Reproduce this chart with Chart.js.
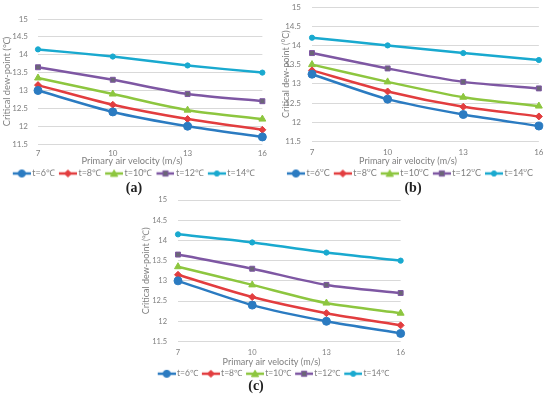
<!DOCTYPE html>
<html>
<head>
<meta charset="utf-8">
<script src="https://cdn.jsdelivr.net/npm/chart.js@4/dist/chart.umd.min.js"></script>
<style>
  body { margin: 0; background: #fff; width: 550px; height: 396px; position: relative; overflow: hidden; }
  canvas { position: absolute; }
  .tag { position: absolute; font: bold 14px "Liberation Serif", serif; color: #222; transform: translate(-50%, -50%); }
</style>
</head>
<body>
<canvas id="chartA" width="272" height="188" style="left:0;top:0"></canvas>
<canvas id="chartB" width="275" height="188" style="left:275px;top:0"></canvas>
<canvas id="chartC" width="272" height="198" style="left:140px;top:190px"></canvas>
<div class="tag" style="left:134px;top:188px">(a)</div>
<div class="tag" style="left:413px;top:188px">(b)</div>
<div class="tag" style="left:256px;top:386px">(c)</div>

<script>
// primary air velocity (m/s)
const velocity = ['7', '10', '13', '16'];
const temps = [6, 8, 10, 12, 14];
const yTicks = { min: 11.5, max: 15, step: 0.5 };

// (a) critical dew-point (°C)
const a6  = [13.0, 12.4, 12.0, 11.7];
const a8  = [13.15, 12.6, 12.2, 11.9];
const a10 = [13.35, 12.9, 12.45, 12.2];
const a12 = [13.65, 13.3, 12.9, 12.7];
const a14 = [14.15, 13.95, 13.7, 13.5];

// (b)
const b6  = [13.25, 12.6, 12.2, 11.9];
const b8  = [13.35, 12.8, 12.4, 12.15];
const b10 = [13.5, 13.05, 12.65, 12.42];
const b12 = [13.8, 13.4, 13.05, 12.88];
const b14 = [14.2, 14.0, 13.8, 13.62];

// (c)
const c6  = [13.0, 12.4, 12.0, 11.7];
const c8  = [13.15, 12.6, 12.2, 11.9];
const c10 = [13.35, 12.9, 12.45, 12.2];
const c12 = [13.65, 13.3, 12.9, 12.7];
const c14 = [14.15, 13.95, 13.7, 13.5];

const colors = ['#2b7bc1', '#e23d3f', '#8dc63f', '#7e57a3', '#19a9cf'];
const fills  = ['#2b7bc1', '#e23d3f', '#8dc63f', '#6a6676', '#19a9cf'];
const markers = ['circle', 'rectRot', 'triangle', 'rect', 'circle'];
const radii = [4, 3.5, 4, 3.5, 2.6];
const gray = '#7f7f7f';
const fontFam = 'Lato, "Open Sans", sans-serif';

// legend icon: line with marker in the middle
function makeIcon(i) {
  const c = document.createElement('canvas');
  c.width = 25; c.height = 10;
  const ctx = c.getContext('2d');
  ctx.strokeStyle = colors[i];
  ctx.lineWidth = 2.5;
  ctx.beginPath(); ctx.moveTo(7, 5); ctx.lineTo(25, 5); ctx.stroke();
  ctx.fillStyle = fills[i];
  ctx.lineWidth = 1;
  const cx = 16, cy = 5, r = Math.min(radii[i], 3.6);
  ctx.beginPath();
  if (markers[i] === 'circle') ctx.arc(cx, cy, r, 0, Math.PI * 2);
  else if (markers[i] === 'rectRot') { ctx.moveTo(cx, cy - r); ctx.lineTo(cx + r, cy); ctx.lineTo(cx, cy + r); ctx.lineTo(cx - r, cy); ctx.closePath(); }
  else if (markers[i] === 'triangle') { ctx.moveTo(cx, cy - r); ctx.lineTo(cx + r, cy + r * 0.8); ctx.lineTo(cx - r, cy + r * 0.8); ctx.closePath(); }
  else { ctx.rect(cx - r * 0.75, cy - r * 0.75, r * 1.5, r * 1.5); }
  ctx.fill();
  ctx.strokeStyle = colors[i];
  ctx.stroke();
  return c;
}
const icons = temps.map((t, i) => makeIcon(i));

function makeChart(id, series, deg, o) {
  new Chart(document.getElementById(id), {
    type: 'line',
    data: {
      labels: velocity,
      datasets: series.map((vals, i) => ({
        label: 't=' + temps[i] + deg,
        data: vals,
        borderColor: colors[i],
        backgroundColor: fills[i],
        pointBorderColor: colors[i],
        pointBackgroundColor: fills[i],
        pointStyle: markers[i],
        pointRadius: radii[i],
        pointBorderWidth: 1,
        borderWidth: 2.5,
        tension: 0.25
      }))
    },
    options: {
      responsive: false,
      animation: false,
      layout: { padding: { top: o.padTop, right: o.padRight, left: 0, bottom: 0 } },
      scales: {
        x: {
          offset: false,
          grid: { display: false, drawTicks: false },
          border: { display: false },
          ticks: { color: gray, padding: o.xTickPad, font: { family: fontFam, size: o.tick } }
        },
        y: {
          min: yTicks.min, max: yTicks.max,
          afterFit: s => { s.width = o.yWidth; s.paddingTop = 0; s.paddingBottom = 0; },
          grid: { color: '#d9d9d9', drawTicks: false },
          border: { display: false },
          ticks: {
            stepSize: yTicks.step, color: gray, padding: o.yTickPad,
            font: { family: fontFam, size: o.tick },
            callback: v => String(+v.toFixed(1))
          },
          title: {
            display: true, text: 'Critical dew-point (' + deg + ')', color: gray,
            padding: { top: o.yTitlePad, bottom: 0 },
            font: { family: fontFam, size: o.title }
          }
        }
      },
      plugins: {
        title: {
          display: true, text: 'Primary air velocity (m/s)', position: 'bottom', weight: 500,
          color: gray, padding: { top: -7, bottom: 3 },
          font: { family: fontFam, size: o.title, weight: 'normal', lineHeight: 1 }
        },
        legend: {
          position: 'bottom',
          labels: {
            usePointStyle: true, pointStyleWidth: 19, boxHeight: 10, padding: 0,
            color: gray, font: { family: fontFam, size: o.legend },
            generateLabels: chart => Chart.defaults.plugins.legend.labels.generateLabels(chart)
              .map((l, i) => { l.pointStyle = icons[i]; return l; })
          }
        },
        tooltip: { enabled: false }
      }
    }
  });
}

makeChart('chartA', [a6, a8, a10, a12, a14], '℃',
  { padTop: 19, padRight: 8, yWidth: 38, yTickPad: 10, yTitlePad: 1, xTickPad: 5, tick: 8, title: 9.3, legend: 9 });
makeChart('chartB', [b6, b8, b10, b12, b14], '°C',
  { padTop: 7, padRight: 9, yWidth: 37, yTickPad: 11, yTitlePad: 6, xTickPad: 6.5, tick: 8, title: 9, legend: 9 });
makeChart('chartC', [c6, c8, c10, c12, c14], '℃',
  { padTop: 10, padRight: 9, yWidth: 38, yTickPad: 11, yTitlePad: 1, xTickPad: 7, tick: 7.5, title: 9, legend: 8.5 });
</script>
</body>
</html>
